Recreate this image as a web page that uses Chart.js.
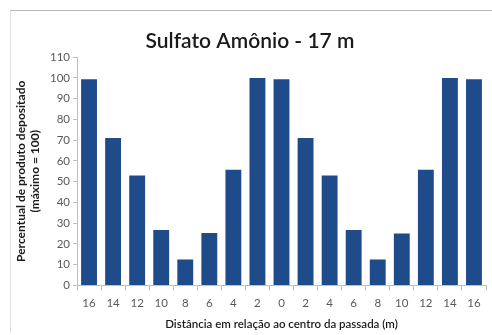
<!DOCTYPE html>
<html>
<head>
<meta charset="utf-8">
<script src="https://cdn.jsdelivr.net/npm/chart.js@4"></script>
<style>
    body { margin: 0; background: #ffffff; }
    #frame {
        position: absolute; left: 10px; top: 10px; width: 490px; height: 322px;
        border-top: 1px solid #b8b8b8; border-left: 1px solid #e2e2e2;
    }
    #chart { position: absolute; left: 0; top: 0; }
</style>
</head>
<body>
<div id="frame"></div>
<canvas id="chart" width="492" height="335"></canvas>
<script>
// Distance labels (m) and deposited product (% of max)
const distances = ['16', '14', '12', '10', '8', '6', '4', '2', '0', '2', '4', '6', '8', '10', '12', '14', '16'];
const deposited = [99.4, 71, 53, 26.7, 12.5, 25.3, 55.7, 100, 99.4, 71, 53, 26.7, 12.5, 25, 55.7, 100, 99.4];

const yMax = 110;
const yStep = 10;

const tickColor = '#595959';
const axisColor = '#bfbfbf';
const barColor = '#1f4b8a';

const ctx = document.getElementById('chart');

new Chart(ctx, {
    type: 'bar',
    data: {
        labels: distances,
        datasets: [{
            data: deposited,
            backgroundColor: barColor,
            borderWidth: 0,
            categoryPercentage: 1,
            barPercentage: 0.66
        }]
    },
    options: {
        responsive: false,
        animation: false,
        layout: { padding: { top: 12, right: 6, left: 14, bottom: 4 } },
        plugins: {
            legend: { display: false },
            tooltip: { enabled: false },
            title: {
                display: true,
                text: 'Sulfato Amônio - 17 m',
                color: '#1a1a1a',
                font: { family: 'Lato', size: 21, weight: '600' },
                padding: { top: 17, bottom: 3 }
            }
        },
        scales: {
            x: {
                grid: { drawOnChartArea: false, color: axisColor, tickLength: 5, offset: true },
                border: { color: axisColor },
                ticks: { color: tickColor, font: { family: 'Lato', size: 11.5 }, padding: 6 },
                title: {
                    display: true,
                    text: 'Distância em relação ao centro da passada (m)',
                    color: '#1a1a1a',
                    font: { family: 'Lato', size: 11.5, weight: '600' },
                    padding: { top: 1, bottom: 0 }
                }
            },
            y: {
                min: 0,
                max: yMax,
                afterFit: function(scale) { scale.width = 63; },
                grid: { drawOnChartArea: false, color: axisColor, tickLength: 4 },
                border: { color: axisColor },
                ticks: { stepSize: yStep, color: tickColor, font: { family: 'Lato', size: 11.5 }, padding: 3 },
                title: {
                    display: true,
                    text: ['Percentual de produto depositado', '(máximo = 100)'],
                    color: '#1a1a1a',
                    font: { family: 'Lato', size: 12, weight: 'bold' },
                    padding: { top: 0, bottom: 2 }
                }
            }
        }
    }
});
</script>
</body>
</html>
